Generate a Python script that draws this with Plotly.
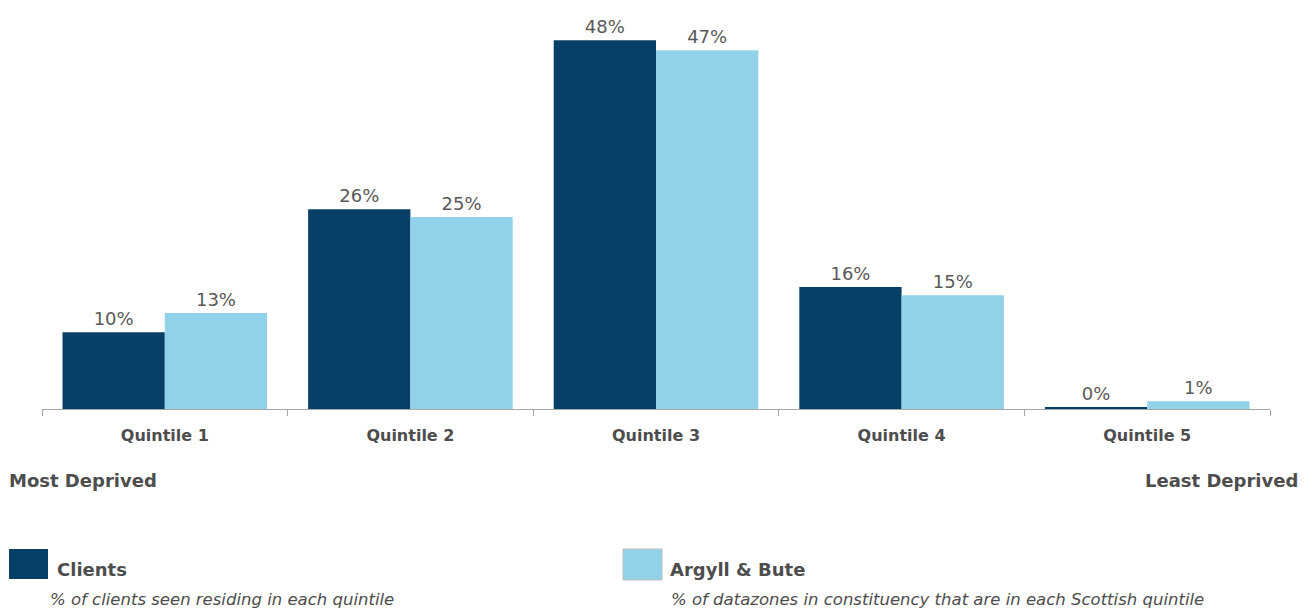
import plotly.graph_objects as go

categories = ["Quintile 1", "Quintile 2", "Quintile 3", "Quintile 4", "Quintile 5"]
clients = [10.0, 26.0, 48.0, 15.9, 0.2]
argyll = [12.5, 25.0, 46.7, 14.8, 1.0]
clients_labels = ["10%", "26%", "48%", "16%", "0%"]
argyll_labels = ["13%", "25%", "47%", "15%", "1%"]

DARK = "#083f66"
LIGHT = "#92d2e9"
TXT = "#595959"
FONT = "DejaVu Sans"

fig = go.Figure()
fig.add_bar(x=categories, y=clients, name="Clients", marker_color=DARK,
            marker_line_width=0, text=clients_labels, textposition="outside",
            textfont=dict(family=FONT, size=18, color=TXT), cliponaxis=False)
fig.add_bar(x=categories, y=argyll, name="Argyll & Bute", marker_color=LIGHT,
            marker_line_width=0, text=argyll_labels, textposition="outside",
            textfont=dict(family=FONT, size=18, color=TXT), cliponaxis=False)

W, H = 1311, 610
L, R, T, B = 42, 41, 25, 201
fig.update_layout(
    width=W, height=H,
    margin=dict(l=L, r=R, t=T, b=B),
    barmode="group", bargap=0.167, bargroupgap=0,
    plot_bgcolor="white", paper_bgcolor="white",
    showlegend=False,
    font=dict(family=FONT, color=TXT),
)
fig.update_xaxes(showline=True, linecolor="#a6a6a6", linewidth=1,
                 ticks="outside", tickson="boundaries", ticklen=6, tickcolor="#a6a6a6",
                 ticklabelstandoff=12,
                 tickfont=dict(family=FONT, size=16, color="#4d4d4d", weight="bold"),
                 showgrid=False)
fig.update_yaxes(range=[0, 50], visible=False, showgrid=False)

pw, ph = W - L - R, H - T - B
def px2x(px):
    return (px - L) / pw
def py2y(py):
    return (H - B - py) / ph

items = [
    ("<b>Most Deprived</b>", 7, 480, "left", 18),
    ("<b>Least Deprived</b>", 1300, 480, "right", 18),
    ("<b>Clients</b>", 55, 569, "left", 18),
    ("<i>% of clients seen residing in each quintile</i>", 48, 599, "left", 16.5),
    ("<b>Argyll & Bute</b>", 668, 569, "left", 18),
    ("<i>% of datazones in constituency that are in each Scottish quintile</i>", 669, 599, "left", 16.5),
]
ann = []
for text, px, py, anchor, size in items:
    ann.append(dict(text=text, x=px2x(px), y=py2y(py), xref="paper", yref="paper",
                    xanchor=anchor, yanchor="middle", showarrow=False,
                    font=dict(family=FONT, size=size, color="#4d4d4d")))
fig.update_layout(annotations=ann)

fig.add_shape(type="rect", xref="paper", yref="paper",
              x0=px2x(9), x1=px2x(48), y0=py2y(579), y1=py2y(549),
              fillcolor=DARK, line_width=0)
fig.add_shape(type="rect", xref="paper", yref="paper",
              x0=px2x(623), x1=px2x(662), y0=py2y(580), y1=py2y(549),
              fillcolor=LIGHT, line=dict(color="#bfbfbf", width=1))

fig.write_html("out.html", config={"displayModeBar": False})
with open("out.html", "r", encoding="utf-8") as f:
    html = f.read()
html = html.replace("<head>", "<head><style>html,body{margin:0;padding:0;overflow:hidden;}</style>", 1)
with open("out.html", "w", encoding="utf-8") as f:
    f.write(html)
